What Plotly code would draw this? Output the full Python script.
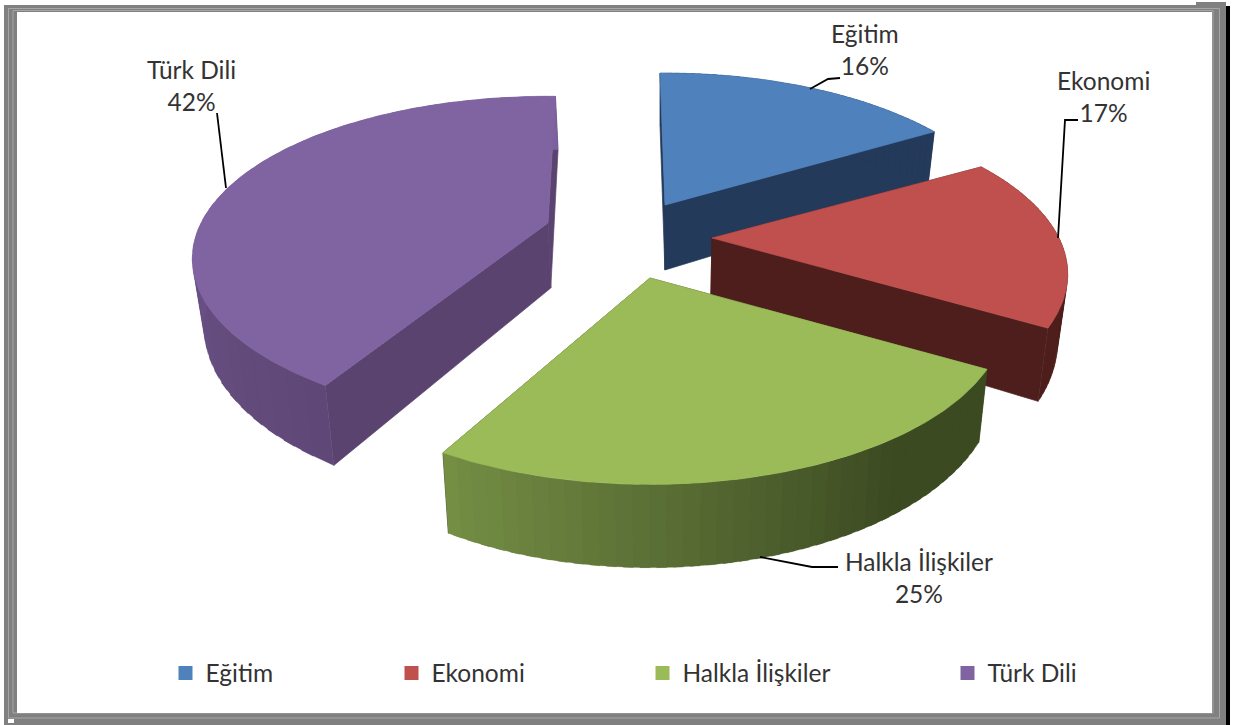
import math
import plotly.graph_objects as go

categories = ["Eğitim", "Ekonomi", "Halkla İlişkiler", "Türk Dili"]
values = [16, 17, 25, 42]
top_colors = ["#4f81bd", "#c0504d", "#9bbb59", "#8064a2"]
wall_colors = ["#243a5a", "#4d1e1c", "#3d4a22", "#5b4370"]
# outer wall shading: colour at the start and at the end of each slice's arc
arc_start = ["#243a5a", "#4d1e1c", "#3c4a22", "#5f4876"]
arc_end = ["#243a5a", "#4d1e1c", "#758f45", "#7c60a0"]
arc_knee = [1.0, 1.0, 0.28, 0.0]

apex = [(665, 205), (712, 238), (650, 278), (548, 223)]
# small per-slice corrections of the drawn angles and height, for the reference's perspective
start_adjust = [-1.0, 2.0, 1.5, 2.6]
end_adjust = [2.0, 2.0, 0.0, 1.5]
ry_scale = [1.0, 0.97, 1.0, 0.96]
label_pos = [(865, 49), (1103, 96), (919, 577), (191, 85)]
leaders = [
    [(810, 89), (828, 79), (840, 78)],
    [(1058, 238), (1065, 120), (1078, 120)],
    [(760, 557), (812, 567), (838, 567)],
    [(226, 188), (217, 113)],
]
legend_x = [165.5, 391.5, 642.5, 947.5]

RX, RY, PERSP, DEPTH, VAN_X, VAN_S = 347.0, 161.0, 0.22, 65.0, 660.0, 0.025


def hex2rgb(h):
    return tuple(int(h[i:i + 2], 16) for i in (1, 3, 5))


def mix(a, b, t):
    ca, cb = hex2rgb(a), hex2rgb(b)
    return "rgb(%d,%d,%d)" % tuple(round(p + (q - p) * t) for p, q in zip(ca, cb))


def project(i, theta, r=1.0, low=False):
    a = apex[i]
    sx, cy = math.sin(math.radians(theta)) * r, math.cos(math.radians(theta)) * r
    w = 1 + PERSP * cy
    x, y = a[0] + RX * sx / w, a[1] - RY * ry_scale[i] * cy / w
    if low:
        y += DEPTH / w
        x += (VAN_X - x) * VAN_S
    return x, y


def poly(xs, ys, color, width=0.7):
    return go.Scatter(x=xs + xs[:1], y=ys + ys[:1], mode="lines", fill="toself", fillcolor=color,
                      line=dict(color=color, width=width), hoverinfo="skip", showlegend=False)


fig = go.Figure()
total = sum(values)
spans = []
acc = 0.0
for i, v in enumerate(values):
    spans.append((acc + start_adjust[i], acc + 360.0 * v / total + end_adjust[i]))
    acc += 360.0 * v / total

for i in [0, 3, 1, 2]:
    t0, t1 = spans[i]
    for t in (t0, t1):
        p0, p1 = project(i, t), project(i, t, low=True)
        q0, q1 = project(i, 0, 0), project(i, 0, 0, low=True)
        fig.add_trace(poly([q0[0], p0[0], p1[0], q1[0]], [q0[1], p0[1], p1[1], q1[1]], wall_colors[i]))
    n = 40
    for k in range(n):
        u0, u1 = t0 + (t1 - t0) * k / n, t0 + (t1 - t0) * (k + 1.6) / n
        u1 = min(u1, t1)
        f = (k + 0.5) / n
        knee = arc_knee[i]
        g = 0 if knee >= 1 or f < knee else (f - knee) / (1 - knee)
        c = mix(arc_start[i], arc_end[i], g)
        pts = [project(i, u0), project(i, u1), project(i, u1, low=True), project(i, u0, low=True)]
        fig.add_trace(poly([p[0] for p in pts], [p[1] for p in pts], c, 0.2))
    arc = [project(i, t0 + (t1 - t0) * k / 120) for k in range(121)]
    ctr = project(i, 0, 0)
    fig.add_trace(poly([ctr[0]] + [p[0] for p in arc], [ctr[1]] + [p[1] for p in arc], top_colors[i]))

for pts in leaders:
    fig.add_trace(go.Scatter(x=[p[0] for p in pts], y=[p[1] for p in pts], mode="lines",
                             line=dict(color="black", width=1.8), hoverinfo="skip", showlegend=False))

legends = {}
for i, name in enumerate(categories):
    key = "legend" if i == 0 else f"legend{i + 1}"
    fig.add_trace(go.Scatter(x=[None], y=[None], mode="markers", name=name, legend=key,
                             marker=dict(symbol="square", size=14, color=top_colors[i])))
    legends[key] = dict(x=legend_x[i] / 1233, y=1 - 673 / 725, xanchor="left", yanchor="middle",
                        bgcolor="rgba(0,0,0,0)", font=dict(family="Lato", size=24.5, color="#333333"))
    fig.add_annotation(x=label_pos[i][0], y=label_pos[i][1], text=f"{name}<br>{values[i]}%", showarrow=False,
                       font=dict(family="Lato", size=24.5, color="#333333"), align="center")

GRAY = "#808080"
shapes = [
    dict(type="rect", x0=4, y0=5, x1=1226, y1=725, fillcolor=GRAY, line_width=0, layer="below"),
    dict(type="rect", x0=1196, y0=2, x1=1226, y1=6, fillcolor=GRAY, line_width=0, layer="below"),
    dict(type="rect", x0=1226, y0=6, x1=1230, y1=725, fillcolor="black", line_width=0, layer="below"),
    dict(type="rect", x0=8.5, y0=8.5, x1=1219.5, y1=718, fillcolor="rgba(0,0,0,0)", line=dict(color="#a6a6a6", width=1), layer="below"),
    dict(type="rect", x0=13, y0=10.5, x1=1213, y1=713, fillcolor="rgba(0,0,0,0)", line=dict(color="#a6a6a6", width=1), layer="below"),
    dict(type="rect", x0=17, y0=12, x1=1212, y1=713, fillcolor="white", line_width=0, layer="below"),
    dict(type="rect", x0=8, y0=719, x1=14, y1=723, fillcolor="white", line_width=0, layer="below"),
]

fig.update_layout(
    width=1233, height=725, margin=dict(l=0, r=0, t=0, b=0), paper_bgcolor="white", plot_bgcolor="rgba(0,0,0,0)",
    xaxis=dict(range=[0, 1233], visible=False, fixedrange=True),
    yaxis=dict(range=[725, 0], visible=False, fixedrange=True),
    shapes=shapes, hovermode=False, **legends,
)
fig.write_html("out.html", config={"displayModeBar": False}, post_script="document.body.style.margin='0';")
